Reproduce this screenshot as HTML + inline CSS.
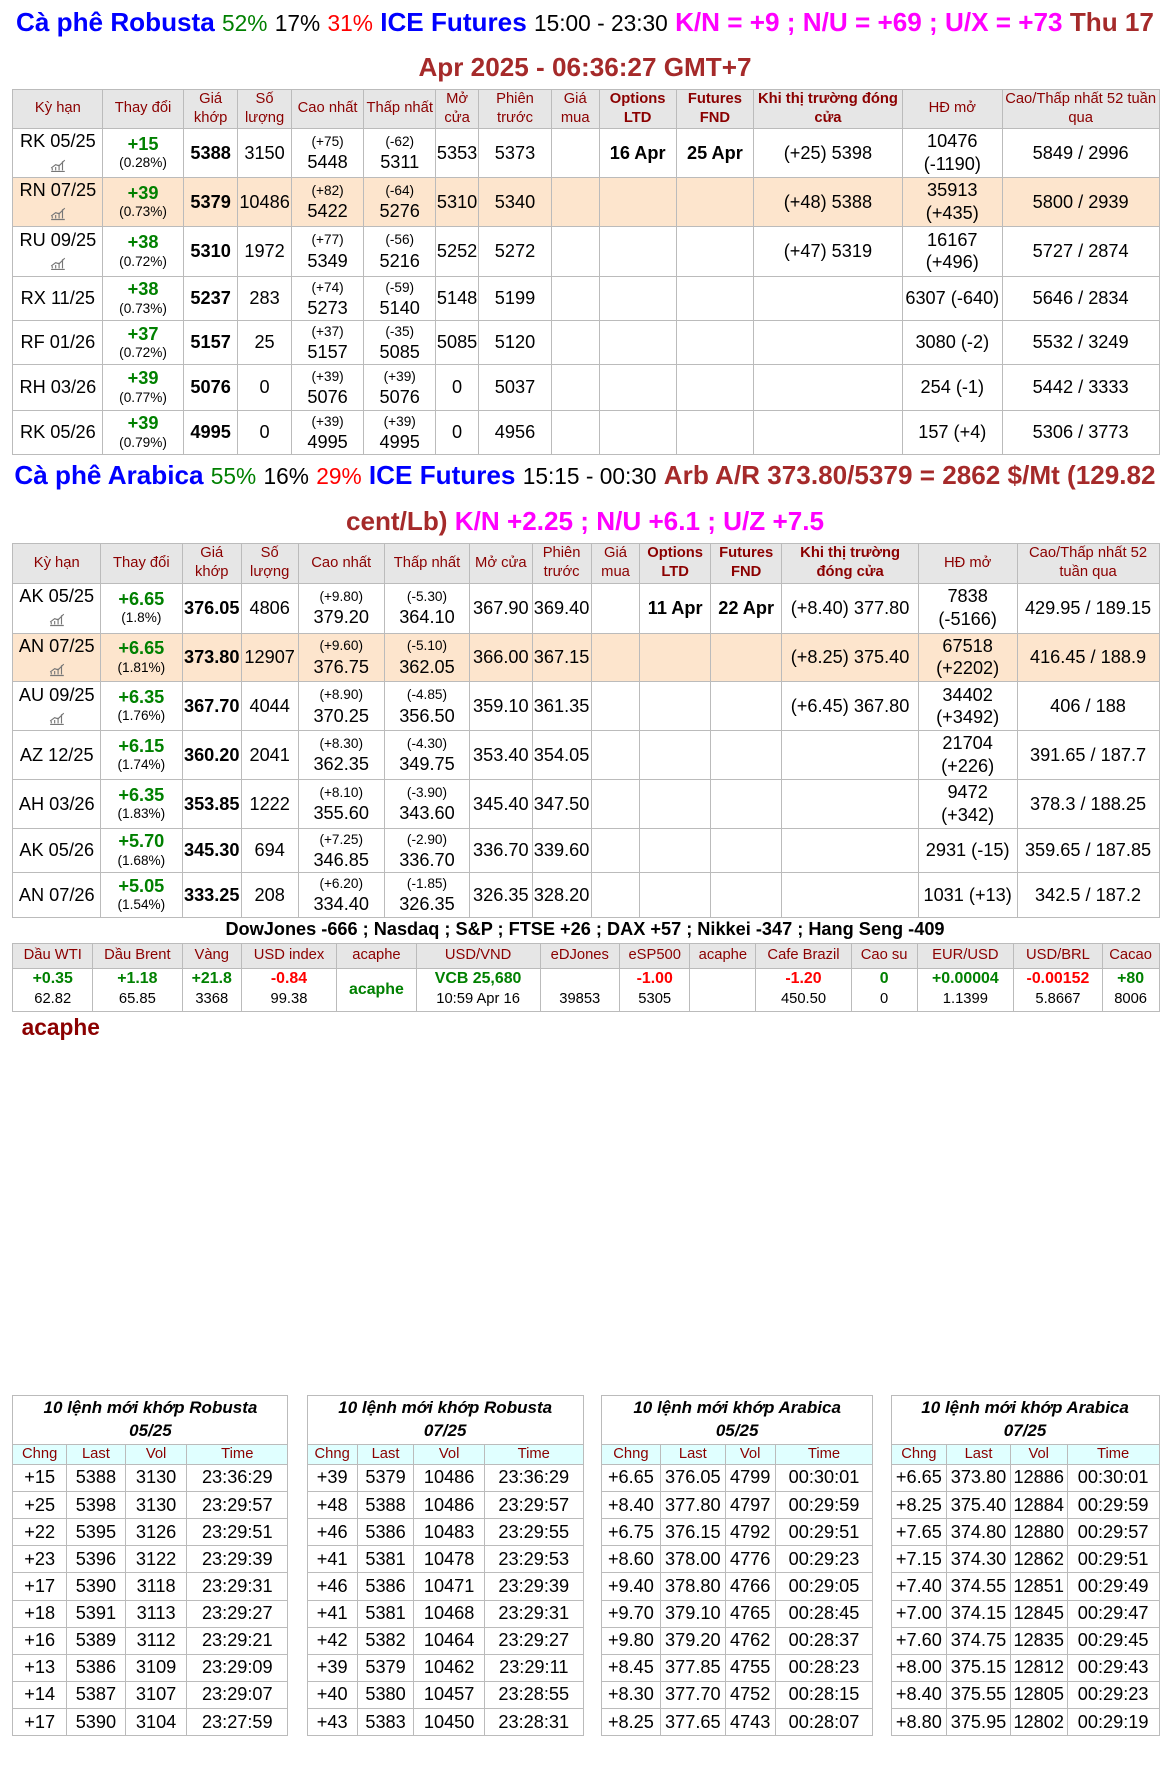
<!DOCTYPE html>
<html><head><meta charset="utf-8"><style>
html,body{margin:0;padding:0;background:#fff;width:1170px;height:1780px;overflow:hidden}
#w{zoom:1.13592;width:1030px;height:1567px;position:relative;font-family:"Liberation Sans",Arial,sans-serif;color:#000}
.t{position:absolute;left:0;width:1030px;text-align:center;font-size:23px;line-height:40px;white-space:nowrap}
.b{color:#0000ff;font-weight:bold}.g{color:#008000}.r{color:#ff0000}.m{color:#ff00ff;font-weight:bold}.dr{color:#a52a2a;font-weight:bold}
.n{font-size:20px}
table{position:absolute;border-collapse:collapse;table-layout:fixed}
td{border:1px solid #bbb;text-align:center;padding:0;font-size:16px;line-height:20px;overflow:hidden;white-space:nowrap}
tr.h td{background:#e6e6e6;color:#8b0000;font-size:13px;line-height:17px;white-space:normal}
tr.o td{background:#fde5cd}
.c{color:#008000;font-weight:bold;font-size:16px;line-height:18px}
.p{font-size:12px;line-height:16px}
.s{font-size:12px;line-height:17px}
.bd{font-weight:bold}
.hb{font-weight:bold}
svg{vertical-align:middle}
.k td{font-size:13px}
tr.kh td{background:#e6e6e6;color:#8b0000;font-size:13px;height:21px}
.k .v{font-weight:bold;font-size:14px;line-height:17px}
.bt td{font-size:16px;height:23px;line-height:22px}
.bt tr.th td{font-style:italic;font-weight:bold;font-size:15px;line-height:20px;height:42px;white-space:normal;padding:0 16px}
.bt tr.hh td{background:#e0ffff;color:#8b0000;font-size:13px;height:17px;line-height:16px}
</style></head><body><div id="w">
<div class="t" style="top:0"><span class="b">Cà phê Robusta</span> <span class="g n">52%</span> <span class="n">17%</span> <span class="r n">31%</span> <span class="b">ICE Futures</span> <span class="n">15:00 - 23:30</span> <span class="m">K/N = +9 ; N/U = +69 ; U/X = +73</span> <span class="dr">Thu 17</span></div>
<div class="t" style="top:40px"><span class="dr">Apr 2025 - 06:36:27 GMT+7</span></div>

<table style="left:11px;top:78px;width:1009px">
<colgroup><col style="width:79px"><col style="width:71px"><col style="width:48px"><col style="width:47px"><col style="width:64px"><col style="width:63px"><col style="width:38px"><col style="width:64px"><col style="width:42px"><col style="width:68px"><col style="width:68px"><col style="width:131px"><col style="width:88px"><col style="width:138px"></colgroup>
<tr class="h" style="height:34px"><td>Kỳ hạn</td><td>Thay đổi</td><td>Giá khớp</td><td>Số lượng</td><td>Cao nhất</td><td>Thấp nhất</td><td>Mở cửa</td><td>Phiên trước</td><td>Giá mua</td><td class="hb">Options LTD</td><td class="hb">Futures FND</td><td class="hb">Khi thị trường đóng cửa</td><td>HĐ mở</td><td>Cao/Thấp nhất 52 tuần qua</td></tr>
<tr style="height:43px"><td>RK 05/25<br><svg width="14" height="12"><path d="M1 11h12M2 10v-2M5 10v-3M8 10v-5M11 10v-8M1 8l4-3 3 1 5-5" stroke="#777" fill="none"/></svg></td><td><div class="c">+15</div><div class="p">(0.28%)</div></td><td class="bd">5388</td><td>3150</td><td><div class="s">(+75)</div>5448</td><td><div class="s">(-62)</div>5311</td><td>5353</td><td>5373</td><td></td><td class="bd">16 Apr</td><td class="bd">25 Apr</td><td>(+25) 5398</td><td>10476<br>(-1190)</td><td>5849 / 2996</td></tr>
<tr class="o" style="height:43px"><td>RN 07/25<br><svg width="14" height="12"><path d="M1 11h12M2 10v-2M5 10v-3M8 10v-5M11 10v-8M1 8l4-3 3 1 5-5" stroke="#777" fill="none"/></svg></td><td><div class="c">+39</div><div class="p">(0.73%)</div></td><td class="bd">5379</td><td>10486</td><td><div class="s">(+82)</div>5422</td><td><div class="s">(-64)</div>5276</td><td>5310</td><td>5340</td><td></td><td></td><td></td><td>(+48) 5388</td><td>35913<br>(+435)</td><td>5800 / 2939</td></tr>
<tr style="height:44px"><td>RU 09/25<br><svg width="14" height="12"><path d="M1 11h12M2 10v-2M5 10v-3M8 10v-5M11 10v-8M1 8l4-3 3 1 5-5" stroke="#777" fill="none"/></svg></td><td><div class="c">+38</div><div class="p">(0.72%)</div></td><td class="bd">5310</td><td>1972</td><td><div class="s">(+77)</div>5349</td><td><div class="s">(-56)</div>5216</td><td>5252</td><td>5272</td><td></td><td></td><td></td><td>(+47) 5319</td><td>16167<br>(+496)</td><td>5727 / 2874</td></tr>
<tr style="height:39px"><td>RX 11/25</td><td><div class="c">+38</div><div class="p">(0.73%)</div></td><td class="bd">5237</td><td>283</td><td><div class="s">(+74)</div>5273</td><td><div class="s">(-59)</div>5140</td><td>5148</td><td>5199</td><td></td><td></td><td></td><td></td><td>6307 (-640)</td><td>5646 / 2834</td></tr>
<tr style="height:39px"><td>RF 01/26</td><td><div class="c">+37</div><div class="p">(0.72%)</div></td><td class="bd">5157</td><td>25</td><td><div class="s">(+37)</div>5157</td><td><div class="s">(-35)</div>5085</td><td>5085</td><td>5120</td><td></td><td></td><td></td><td></td><td>3080 (-2)</td><td>5532 / 3249</td></tr>
<tr style="height:40px"><td>RH 03/26</td><td><div class="c">+39</div><div class="p">(0.77%)</div></td><td class="bd">5076</td><td>0</td><td><div class="s">(+39)</div>5076</td><td><div class="s">(+39)</div>5076</td><td>0</td><td>5037</td><td></td><td></td><td></td><td></td><td>254 (-1)</td><td>5442 / 3333</td></tr>
<tr style="height:39px"><td>RK 05/26</td><td><div class="c">+39</div><div class="p">(0.79%)</div></td><td class="bd">4995</td><td>0</td><td><div class="s">(+39)</div>4995</td><td><div class="s">(+39)</div>4995</td><td>0</td><td>4956</td><td></td><td></td><td></td><td></td><td>157 (+4)</td><td>5306 / 3773</td></tr>
</table>

<div class="t" style="top:399px"><span class="b">Cà phê Arabica</span> <span class="g n">55%</span> <span class="n">16%</span> <span class="r n">29%</span> <span class="b">ICE Futures</span> <span class="n">15:15 - 00:30</span> <span class="dr">Arb A/R 373.80/5379 = 2862 $/Mt (129.82</span></div>
<div class="t" style="top:439px"><span class="dr">cent/Lb)</span> <span class="m">K/N +2.25 ; N/U +6.1 ; U/Z +7.5</span></div>

<table style="left:11px;top:478px;width:1009px">
<colgroup><col style="width:77px"><col style="width:72px"><col style="width:52px"><col style="width:50px"><col style="width:76px"><col style="width:75px"><col style="width:55px"><col style="width:52px"><col style="width:43px"><col style="width:62px"><col style="width:63px"><col style="width:120px"><col style="width:87px"><col style="width:125px"></colgroup>
<tr class="h" style="height:33px"><td>Kỳ hạn</td><td>Thay đổi</td><td>Giá khớp</td><td>Số lượng</td><td>Cao nhất</td><td>Thấp nhất</td><td>Mở cửa</td><td>Phiên trước</td><td>Giá mua</td><td class="hb">Options LTD</td><td class="hb">Futures FND</td><td class="hb">Khi thị trường đóng cửa</td><td>HĐ mở</td><td>Cao/Thấp nhất 52 tuần qua</td></tr>
<tr style="height:44px"><td>AK 05/25<br><svg width="14" height="12"><path d="M1 11h12M2 10v-2M5 10v-3M8 10v-5M11 10v-8M1 8l4-3 3 1 5-5" stroke="#777" fill="none"/></svg></td><td><div class="c">+6.65</div><div class="p">(1.8%)</div></td><td class="bd">376.05</td><td>4806</td><td><div class="s">(+9.80)</div>379.20</td><td><div class="s">(-5.30)</div>364.10</td><td>367.90</td><td>369.40</td><td></td><td class="bd">11 Apr</td><td class="bd">22 Apr</td><td>(+8.40) 377.80</td><td>7838<br>(-5166)</td><td>429.95 / 189.15</td></tr>
<tr class="o" style="height:43px"><td>AN 07/25<br><svg width="14" height="12"><path d="M1 11h12M2 10v-2M5 10v-3M8 10v-5M11 10v-8M1 8l4-3 3 1 5-5" stroke="#777" fill="none"/></svg></td><td><div class="c">+6.65</div><div class="p">(1.81%)</div></td><td class="bd">373.80</td><td>12907</td><td><div class="s">(+9.60)</div>376.75</td><td><div class="s">(-5.10)</div>362.05</td><td>366.00</td><td>367.15</td><td></td><td></td><td></td><td>(+8.25) 375.40</td><td>67518<br>(+2202)</td><td>416.45 / 188.9</td></tr>
<tr style="height:43px"><td>AU 09/25<br><svg width="14" height="12"><path d="M1 11h12M2 10v-2M5 10v-3M8 10v-5M11 10v-8M1 8l4-3 3 1 5-5" stroke="#777" fill="none"/></svg></td><td><div class="c">+6.35</div><div class="p">(1.76%)</div></td><td class="bd">367.70</td><td>4044</td><td><div class="s">(+8.90)</div>370.25</td><td><div class="s">(-4.85)</div>356.50</td><td>359.10</td><td>361.35</td><td></td><td></td><td></td><td>(+6.45) 367.80</td><td>34402<br>(+3492)</td><td>406 / 188</td></tr>
<tr style="height:43px"><td>AZ 12/25</td><td><div class="c">+6.15</div><div class="p">(1.74%)</div></td><td class="bd">360.20</td><td>2041</td><td><div class="s">(+8.30)</div>362.35</td><td><div class="s">(-4.30)</div>349.75</td><td>353.40</td><td>354.05</td><td></td><td></td><td></td><td></td><td>21704<br>(+226)</td><td>391.65 / 187.7</td></tr>
<tr style="height:43px"><td>AH 03/26</td><td><div class="c">+6.35</div><div class="p">(1.83%)</div></td><td class="bd">353.85</td><td>1222</td><td><div class="s">(+8.10)</div>355.60</td><td><div class="s">(-3.90)</div>343.60</td><td>345.40</td><td>347.50</td><td></td><td></td><td></td><td></td><td>9472<br>(+342)</td><td>378.3 / 188.25</td></tr>
<tr style="height:39px"><td>AK 05/26</td><td><div class="c">+5.70</div><div class="p">(1.68%)</div></td><td class="bd">345.30</td><td>694</td><td><div class="s">(+7.25)</div>346.85</td><td><div class="s">(-2.90)</div>336.70</td><td>336.70</td><td>339.60</td><td></td><td></td><td></td><td></td><td>2931 (-15)</td><td>359.65 / 187.85</td></tr>
<tr style="height:39px"><td>AN 07/26</td><td><div class="c">+5.05</div><div class="p">(1.54%)</div></td><td class="bd">333.25</td><td>208</td><td><div class="s">(+6.20)</div>334.40</td><td><div class="s">(-1.85)</div>326.35</td><td>326.35</td><td>328.20</td><td></td><td></td><td></td><td></td><td>1031 (+13)</td><td>342.5 / 187.2</td></tr>
</table>

<div class="t" style="top:808px;font-size:16px;line-height:20px;font-weight:bold">DowJones -666 ; Nasdaq ; S&amp;P ; FTSE +26 ; DAX +57 ; Nikkei -347 ; Hang Seng -409</div>
<table class="k" style="left:11px;top:830px;width:1009px">
<colgroup><col style="width:70px"><col style="width:79px"><col style="width:52px"><col style="width:84px"><col style="width:70px"><col style="width:109px"><col style="width:70px"><col style="width:62px"><col style="width:58px"><col style="width:84px"><col style="width:58px"><col style="width:85px"><col style="width:78px"><col style="width:50px"></colgroup>
<tr class="kh"><td>Dầu WTI</td><td>Dầu Brent</td><td>Vàng</td><td>USD index</td><td>acaphe</td><td>USD/VND</td><td>eDJones</td><td>eSP500</td><td>acaphe</td><td>Cafe Brazil</td><td>Cao su</td><td>EUR/USD</td><td>USD/BRL</td><td>Cacao</td></tr>
<tr style="height:38px"><td><div class="v g">+0.35</div>62.82</td><td><div class="v g">+1.18</div>65.85</td><td><div class="v g">+21.8</div>3368</td><td><div class="v r">-0.84</div>99.38</td><td class="v g">acaphe</td><td><div class="v g">VCB 25,680</div>10:59 Apr 16</td><td style="vertical-align:bottom">39853</td><td><div class="v r">-1.00</div>5305</td><td></td><td><div class="v r">-1.20</div>450.50</td><td><div class="v g">0</div>0</td><td><div class="v g">+0.00004</div>1.1399</td><td><div class="v r">-0.00152</div>5.8667</td><td><div class="v g">+80</div>8006</td></tr>
</table>
<div style="position:absolute;left:19px;top:893px;font-size:20px;font-weight:bold;color:#8b0000">acaphe</div>

<table class="bt" style="left:11px;top:1228px;width:242px"><colgroup><col style="width:47px"><col style="width:52px"><col style="width:54px"><col style="width:89px"></colgroup>
<tr class="th"><td colspan="4">10 lệnh mới khớp Robusta 05/25</td></tr>
<tr class="hh"><td>Chng</td><td>Last</td><td>Vol</td><td>Time</td></tr>
<tr><td>+15</td><td>5388</td><td>3130</td><td>23:36:29</td></tr><tr><td>+25</td><td>5398</td><td>3130</td><td>23:29:57</td></tr><tr><td>+22</td><td>5395</td><td>3126</td><td>23:29:51</td></tr><tr><td>+23</td><td>5396</td><td>3122</td><td>23:29:39</td></tr><tr><td>+17</td><td>5390</td><td>3118</td><td>23:29:31</td></tr><tr><td>+18</td><td>5391</td><td>3113</td><td>23:29:27</td></tr><tr><td>+16</td><td>5389</td><td>3112</td><td>23:29:21</td></tr><tr><td>+13</td><td>5386</td><td>3109</td><td>23:29:09</td></tr><tr><td>+14</td><td>5387</td><td>3107</td><td>23:29:07</td></tr><tr><td>+17</td><td>5390</td><td>3104</td><td>23:27:59</td></tr>
</table>
<table class="bt" style="left:270px;top:1228px;width:243px"><colgroup><col style="width:44px"><col style="width:50px"><col style="width:62px"><col style="width:87px"></colgroup>
<tr class="th"><td colspan="4">10 lệnh mới khớp Robusta 07/25</td></tr>
<tr class="hh"><td>Chng</td><td>Last</td><td>Vol</td><td>Time</td></tr>
<tr><td>+39</td><td>5379</td><td>10486</td><td>23:36:29</td></tr><tr><td>+48</td><td>5388</td><td>10486</td><td>23:29:57</td></tr><tr><td>+46</td><td>5386</td><td>10483</td><td>23:29:55</td></tr><tr><td>+41</td><td>5381</td><td>10478</td><td>23:29:53</td></tr><tr><td>+46</td><td>5386</td><td>10471</td><td>23:29:39</td></tr><tr><td>+41</td><td>5381</td><td>10468</td><td>23:29:31</td></tr><tr><td>+42</td><td>5382</td><td>10464</td><td>23:29:27</td></tr><tr><td>+39</td><td>5379</td><td>10462</td><td>23:29:11</td></tr><tr><td>+40</td><td>5380</td><td>10457</td><td>23:28:55</td></tr><tr><td>+43</td><td>5383</td><td>10450</td><td>23:28:31</td></tr>
</table>
<table class="bt" style="left:529px;top:1228px;width:239px"><colgroup><col style="width:52px"><col style="width:57px"><col style="width:44px"><col style="width:86px"></colgroup>
<tr class="th"><td colspan="4">10 lệnh mới khớp Arabica 05/25</td></tr>
<tr class="hh"><td>Chng</td><td>Last</td><td>Vol</td><td>Time</td></tr>
<tr><td>+6.65</td><td>376.05</td><td>4799</td><td>00:30:01</td></tr><tr><td>+8.40</td><td>377.80</td><td>4797</td><td>00:29:59</td></tr><tr><td>+6.75</td><td>376.15</td><td>4792</td><td>00:29:51</td></tr><tr><td>+8.60</td><td>378.00</td><td>4776</td><td>00:29:23</td></tr><tr><td>+9.40</td><td>378.80</td><td>4766</td><td>00:29:05</td></tr><tr><td>+9.70</td><td>379.10</td><td>4765</td><td>00:28:45</td></tr><tr><td>+9.80</td><td>379.20</td><td>4762</td><td>00:28:37</td></tr><tr><td>+8.45</td><td>377.85</td><td>4755</td><td>00:28:23</td></tr><tr><td>+8.30</td><td>377.70</td><td>4752</td><td>00:28:15</td></tr><tr><td>+8.25</td><td>377.65</td><td>4743</td><td>00:28:07</td></tr>
</table>
<table class="bt" style="left:784px;top:1228px;width:236px"><colgroup><col style="width:49px"><col style="width:56px"><col style="width:50px"><col style="width:81px"></colgroup>
<tr class="th"><td colspan="4">10 lệnh mới khớp Arabica 07/25</td></tr>
<tr class="hh"><td>Chng</td><td>Last</td><td>Vol</td><td>Time</td></tr>
<tr><td>+6.65</td><td>373.80</td><td>12886</td><td>00:30:01</td></tr><tr><td>+8.25</td><td>375.40</td><td>12884</td><td>00:29:59</td></tr><tr><td>+7.65</td><td>374.80</td><td>12880</td><td>00:29:57</td></tr><tr><td>+7.15</td><td>374.30</td><td>12862</td><td>00:29:51</td></tr><tr><td>+7.40</td><td>374.55</td><td>12851</td><td>00:29:49</td></tr><tr><td>+7.00</td><td>374.15</td><td>12845</td><td>00:29:47</td></tr><tr><td>+7.60</td><td>374.75</td><td>12835</td><td>00:29:45</td></tr><tr><td>+8.00</td><td>375.15</td><td>12812</td><td>00:29:43</td></tr><tr><td>+8.40</td><td>375.55</td><td>12805</td><td>00:29:23</td></tr><tr><td>+8.80</td><td>375.95</td><td>12802</td><td>00:29:19</td></tr>
</table>
</div></body></html>
